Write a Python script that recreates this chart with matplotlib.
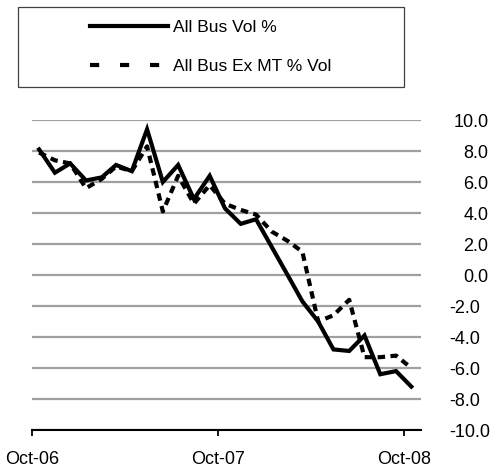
import numpy as np
import pandas as pd
import matplotlib
matplotlib.use('Agg')
import matplotlib.pyplot as plt
import matplotlib.dates as mdates
from matplotlib.lines import Line2D
from matplotlib.patches import Rectangle

plt.rcParams['font.family'] = ['Liberation Sans', 'DejaVu Sans']

# 月度数据（Oct-06 至 Oct-08，按月中取点）
months = pd.date_range('2006-10-01', '2008-10-01', freq='MS')
all_bus_vol = [8.1, 6.6, 7.2, 6.1, 6.3, 7.1, 6.7, 9.4, 6.0, 7.1, 4.9, 6.4, 4.3,
               3.3, 3.6, 1.8, 0.0, -1.7, -3.0, -4.8, -4.9, -3.9, -6.4, -6.2, -7.2]
all_bus_ex_mt = [7.9, 7.4, 7.2, 5.6, 6.2, 7.0, 6.7, 8.3, 4.1, 6.4, 4.6, 5.8, 4.6,
                 4.2, 3.9, 2.8, 2.2, 1.5, -3.0, -2.6, -1.6, -5.3, -5.3, -5.2, -6.0]
labels = ['All Bus Vol %', 'All Bus Ex MT % Vol']
y_ticks = np.arange(-10, 10.1, 2)
x_ticks = pd.to_datetime(['2006-10-01', '2007-10-01', '2008-10-01'])

dates = months + pd.Timedelta(days=14)

fig = plt.figure(figsize=(4.99, 4.71), dpi=100)
ax = fig.add_axes([0.0641, 0.0870, 0.7796, 0.6582])

ax.plot(dates, all_bus_vol, color='black', lw=3, solid_joinstyle='miter', zorder=3)
ax.plot(dates, all_bus_ex_mt, color='black', lw=3, linestyle=(0, (1.8, 1.3)),
        dash_capstyle='butt', zorder=3)

ax.set_ylim(-10, 10)
ax.set_xlim(pd.Timestamp('2006-10-01'), pd.Timestamp('2008-11-03'))
ax.set_yticks(y_ticks)
ax.yaxis.tick_right()
ax.tick_params(axis='y', length=0, labelright=False)
ax.grid(axis='y', color='#a0a0a0', lw=1.6)
ax.set_axisbelow(True)

# 右侧刻度标签：正数右对齐，负数左对齐（仿 Excel）
ytrans = ax.get_yaxis_transform()
for v in y_ticks:
    if v >= 0:
        ax.text(1.1731, v, '%.1f' % v, transform=ytrans, ha='right',
                va='center_baseline', fontsize=13, clip_on=False)
    else:
        ax.text(1.0728, v, '%.1f' % v, transform=ytrans, ha='left',
                va='center_baseline', fontsize=13, clip_on=False)

ax.set_xticks(x_ticks)
ax.xaxis.set_major_formatter(mdates.DateFormatter('%b-%y'))
ax.tick_params(axis='x', direction='out', length=4, width=1.3, pad=11, labelsize=13)

for s in ['top', 'left', 'right']:
    ax.spines[s].set_visible(False)
ax.spines['bottom'].set_linewidth(1.5)

# 图例外框
fig.patches.append(Rectangle((0.036, 0.8153), 0.7735, 0.1699, transform=fig.transFigure,
                             fill=False, edgecolor='#404040', lw=0.9))
handles = [Line2D([], [], color='black', lw=3),
           Line2D([], [], color='black', lw=3, linestyle=(0, (2.2, 5.0)))]
fig.legend(handles, labels, loc='center', bbox_to_anchor=(0.4228, 0.9002),
           frameon=False, fontsize=12.5, handlelength=4.5, handletextpad=0.3,
           labelspacing=1.35)

fig.savefig('out.png', dpi=100)
